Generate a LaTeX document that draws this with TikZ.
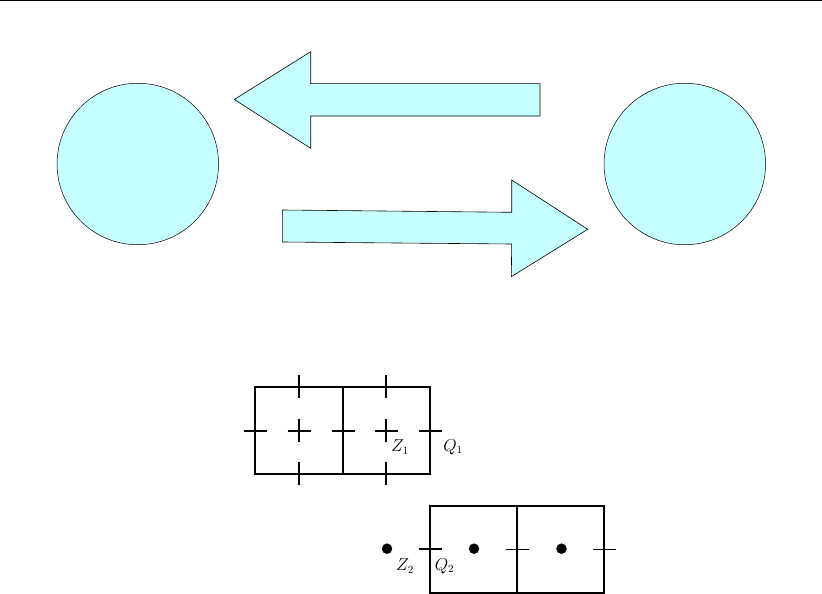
\documentclass[tikz,border=0pt]{standalone}
\usepackage{xcolor}
\usepackage{tikz}
\usepackage{amsmath}
\usetikzlibrary{
  arrows.meta,
  shapes.geometric,
  positioning,
  calc
}
\definecolor{qcCyan}{HTML}{C6FFFF}
\tikzset{
  party/.style={draw, circle, fill=qcCyan, minimum size=161.5pt, inner sep=0pt, line width=0.5pt},
  bigarrow/.style={draw, fill=qcCyan, line width=0.6pt, line join=miter},
  cell/.style={draw, minimum width=87.3pt, minimum height=87pt, inner sep=0pt, line width=2pt},
  tick/.style={line width=1.5pt},
  tickthin/.style={line width=1pt},
  tag/.style={font=\fontsize{16}{19}\selectfont, inner sep=0pt},
  qubit/.style={draw, circle, fill=black, minimum size=10pt, inner sep=0pt}
}
\begin{document}
\begin{tikzpicture}[x=1pt, y=-1pt]
  \useasboundingbox (0,0) rectangle (822,594);
  \draw[line width=1pt] (0,0.5) -- (822,0.5);
  % the two parties
  \node[party] (left) at (137.8,164) {};
  \node[party] (right) at (684.8,164) {};
  % arrows between them
  \draw[bigarrow] (234.3,99.5) -- (310.7,51.7) -- (310.7,83.7) -- (540,83.7) -- (540,116) -- (310.7,116) -- (310.7,148.3) -- cycle;
  \draw[bigarrow] (282.3,210) -- (511.7,212.3) -- (511.7,180) -- (587.7,229.3) -- (511.3,276.7) -- (511.7,244) -- (282.3,242) -- cycle;
  % upper lattice
  \node[cell] (a1) at (299,430) {};
  \node[cell] (a2) at (386.3,430) {};
  \foreach \x in {255.5,299,343,386.5,430}{\draw[tick] ($(\x,431)+(-11.5,0)$) -- ($(\x,431)+(11.5,0)$);}
  \foreach \x in {299,386}{
    \foreach \y in {386.5,430.5,473.5}{\draw[tick] ($(\x,\y)+(0,-11.5)$) -- ($(\x,\y)+(0,11.5)$);}
  }
  \node[tag] (z1) at (400,447) {$Z_1$};
  \node[tag] (q1) at (453,447) {$Q_1$};
  % lower lattice
  \node[cell] (b1) at (473.6,549) {};
  \node[cell] (b2) at (560.8,549) {};
  \foreach \x in {387,474,561.5}{\node[qubit] at (\x,548.7) {};}
  \draw[tick] (418.5,549) -- (441.5,549);
  \foreach \x in {517,604.5}{\draw[tickthin] ($(\x,549)+(-11.5,0)$) -- ($(\x,549)+(11.5,0)$);}
  \node[tag] (z2) at (405,566) {$Z_2$};
  \node[tag] (q2) at (444.5,566) {$Q_2$};
\end{tikzpicture}
\end{document}
